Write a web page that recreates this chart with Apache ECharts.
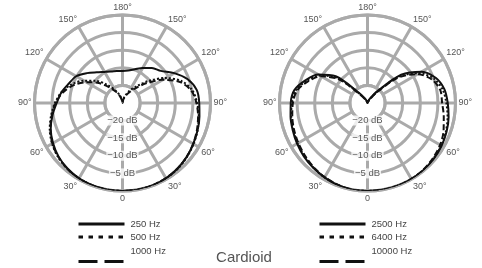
<!DOCTYPE html>
<html>
<head>
<meta charset="utf-8">
<script src="https://cdn.jsdelivr.net/npm/echarts@6/dist/echarts.min.js"></script>
<style>
  html, body { margin: 0; padding: 0; background: #fff; }
  #chart { width: 482px; height: 268px; }
</style>
</head>
<body>
<div id="chart"></div>
<script>
// angle in degrees, 0 = front (bottom), clockwise on screen
var angles = [0, 10, 20, 30, 40, 50, 60, 70, 80, 90, 100, 110, 120, 130, 140, 150, 160, 170, 180,
  190, 200, 210, 220, 230, 240, 250, 260, 270, 280, 290, 300, 310, 320, 330, 340, 350, 360];

// left plot, dB
var hz250 = [0, 0, -0.1, -0.3, -0.7, -1.3, -2.2, -3.3, -4.8, -6.3, -7.4, -8.8, -9.8, -11.8, -13.6, -14.8, -15.5, -15.8, -15.9,
  -15.6, -14.8, -13.5, -12.0, -10.8, -8.0, -5.3, -3.6, -3.2, -2.8, -2.3, -1.8, -1.2, -0.7, -0.3, -0.1, 0, 0];
var hz500 = [0, 0, -0.1, -0.3, -0.6, -1.1, -1.9, -3.0, -4.4, -5.8, -7.4, -9.6, -12.3, -15.2, -18.3, -20.8, -22.6, -24, -25,
  -24, -22.8, -21, -18.8, -15.2, -10.8, -7, -4.8, -3.8, -3.0, -2.3, -1.7, -1.1, -0.6, -0.3, -0.1, 0, 0];
var hz1000 = [0, 0, -0.1, -0.3, -0.6, -1.2, -2.0, -3.2, -4.6, -6.0, -7.8, -10.2, -13.2, -16.2, -19.2, -21.3, -23, -24.3, -25,
  -24.3, -23.2, -21.8, -19.8, -16.3, -11.8, -7.6, -5.1, -4.0, -3.2, -2.5, -1.8, -1.2, -0.7, -0.4, -0.1, 0, 0];

// right plot, dB
var hz2500 = [0, 0, -0.2, -0.6, -1.0, -1.4, -1.9, -2.4, -2.8, -3.2, -3.9, -6.2, -8.8, -13.2, -21.2, -23.5, -24.5, -25, -25,
  -25, -24.5, -23.5, -20.5, -12.5, -7.2, -4.3, -2.8, -2.2, -1.6, -1.1, -0.7, -0.4, -0.2, 0, 0, 0, 0];
var hz6400 = [0, 0, -0.2, -0.6, -1.1, -1.6, -2.1, -2.6, -3.0, -3.5, -4.3, -6.6, -9.4, -14.2, -21.8, -24, -24.7, -25, -25,
  -25, -24.7, -23.8, -21, -13.3, -8.0, -4.9, -3.3, -2.6, -1.9, -1.3, -0.8, -0.5, -0.2, -0.1, 0, 0, 0];
var hz10000 = [0, 0, -0.3, -0.7, -1.2, -1.8, -2.3, -2.8, -3.3, -3.8, -4.7, -7.0, -9.8, -14.8, -22.2, -24, -24.7, -25, -25,
  -25, -24.7, -24, -21.5, -14, -8.6, -5.5, -4.0, -3.8, -3.0, -2.0, -1.2, -0.7, -0.3, -0.1, 0, 0, 0];

var dbTicks = [-20, -15, -10, -5];

var gridColor = '#aaaaaa';
var centers = [[122.5, 103], [367.5, 103]];

function toPairs(vals) {
  return vals.map(function (v, i) { return [v, angles[i]]; });
}

// grid polars (0, 1) keep the empty middle; data polars (2, 3) reach the centre
function angleAxis(idx, visible) {
  return {
    polarIndex: idx,
    show: visible,
    type: 'value',
    min: 0,
    max: 360,
    interval: 30,
    startAngle: 270,
    clockwise: true,
    axisLine: { lineStyle: { color: gridColor, width: 3 } },
    axisTick: { show: false },
    splitLine: { lineStyle: { color: gridColor, width: 3 } },
    axisLabel: {
      margin: 3,
      color: '#555',
      fontSize: 9,
      fontFamily: 'Liberation Sans',
      formatter: function (v) {
        if (v === 0) return '0';
        return (v <= 180 ? v : 360 - v) + '°';
      }
    }
  };
}

function radiusAxis(idx, visible, min) {
  return {
    polarIndex: idx,
    show: visible,
    type: 'value',
    min: min,
    max: 0,
    interval: 5,
    axisLine: { show: false },
    axisTick: { show: false },
    axisLabel: { show: false },
    splitLine: { lineStyle: { color: gridColor, width: 3 } }
  };
}

function curve(name, idx, vals, type) {
  return {
    name: name,
    type: 'line',
    coordinateSystem: 'polar',
    polarIndex: idx,
    data: toPairs(vals),
    symbol: 'none',
    smooth: 0.3,
    silent: true,
    itemStyle: { color: '#111' },
    lineStyle: { color: '#111', width: 2, type: type },
    z: 5
  };
}

function dbLabels(idx) {
  return {
    type: 'scatter',
    coordinateSystem: 'polar',
    polarIndex: idx,
    symbolSize: 0,
    silent: true,
    data: dbTicks.map(function (d) { return [d, 0]; }),
    label: {
      show: true,
      position: 'inside',
      formatter: function (p) { return '−' + Math.abs(p.value[0]) + ' dB'; },
      color: '#333',
      fontSize: 9.5,
      fontFamily: 'Liberation Sans',
      backgroundColor: '#fff',
      padding: [0, 1]
    },
    z: 6
  };
}

// lifted: text sits one half line above the line sample (two-line block, icon centred on it)
function legendItem(name, left, top, type, lifted) {
  return {
    data: [name],
    left: left,
    top: top,
    padding: 0,
    itemWidth: 46,
    itemHeight: 8,
    selectedMode: false,
    itemStyle: { opacity: 0, borderWidth: 0 },
    lineStyle: { width: 3, type: type, color: '#111' },
    formatter: lifted ? function (n) { return n + '\n'; } : '{name}',
    textStyle: {
      color: '#444',
      fontSize: 9.5,
      fontFamily: 'Liberation Sans',
      lineHeight: lifted ? 20 : 12,
      padding: [0, 0, 0, 1]
    }
  };
}

var dotted = [4.5, 5.5];
var dashed = [19, 7];

var option = {
  animation: false,
  title: {
    text: 'Cardioid',
    left: 244,
    top: 250.5,
    padding: 0,
    textAlign: 'center',
    textStyle: { color: '#555', fontSize: 15, fontWeight: 'normal', fontFamily: 'Liberation Sans' }
  },
  polar: [
    { center: centers[0], radius: [17.6, 88] },
    { center: centers[1], radius: [17.6, 88] },
    { center: centers[0], radius: [0, 88] },
    { center: centers[1], radius: [0, 88] }
  ],
  angleAxis: [angleAxis(0, true), angleAxis(1, true), angleAxis(2, false), angleAxis(3, false)],
  radiusAxis: [radiusAxis(0, true, -20), radiusAxis(1, true, -20), radiusAxis(2, false, -25), radiusAxis(3, false, -25)],
  legend: [
    legendItem('250 Hz', 77, 218, 'solid'),
    legendItem('500 Hz', 77, 231, dotted),
    legendItem('1000 Hz', 77, 241.5, dashed, true),
    legendItem('2500 Hz', 318, 218, 'solid'),
    legendItem('6400 Hz', 318, 231, dotted),
    legendItem('10000 Hz', 318, 241.5, dashed, true)
  ],
  series: [
    curve('250 Hz', 2, hz250, 'solid'),
    curve('500 Hz', 2, hz500, [2, 2]),
    curve('1000 Hz', 2, hz1000, [6, 3]),
    curve('2500 Hz', 3, hz2500, 'solid'),
    curve('6400 Hz', 3, hz6400, [2, 2]),
    curve('10000 Hz', 3, hz10000, [6, 3]),
    dbLabels(0),
    dbLabels(1)
  ]
};

echarts.init(document.getElementById('chart')).setOption(option);
</script>
</body>
</html>
